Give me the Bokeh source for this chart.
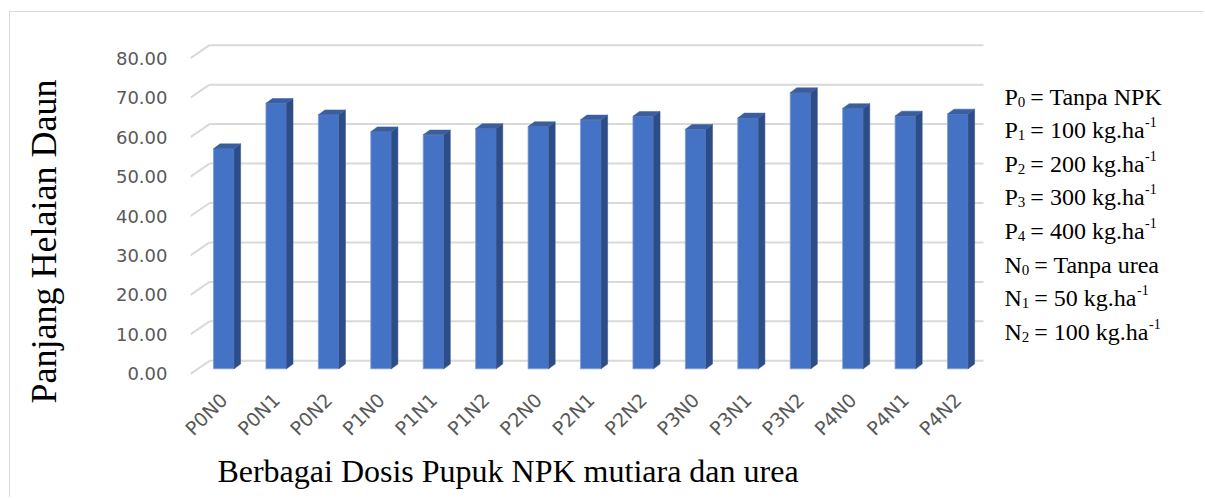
import math
from bokeh.plotting import figure
from bokeh.models import Range1d, LinearAxis, FixedTicker, PrintfTickFormatter, Title
from bokeh.core.properties import value
from bokeh.embed import file_html
from bokeh.resources import INLINE

# ---------------- data ----------------
categories = ["P0N0", "P0N1", "P0N2", "P1N0", "P1N1", "P1N2", "P2N0", "P2N1",
              "P2N2", "P3N0", "P3N1", "P3N2", "P4N0", "P4N1", "P4N2"]
panjang = [55.8, 67.3, 64.4, 60.1, 59.3, 60.9, 61.4, 63.1, 64.0, 60.7, 63.6,
           70.0, 66.0, 64.1, 64.6]
y_ticks = [0, 10, 20, 30, 40, 50, 60, 70, 80]

legend_symbols = ["P", "P", "P", "P", "P", "N", "N", "N"]
legend_subs = ["0", "1", "2", "3", "4", "0", "1", "2"]
legend_texts = ["= Tanpa NPK", "= 100 kg.ha", "= 200 kg.ha", "= 300 kg.ha",
                "= 400 kg.ha", "= Tanpa urea", "= 50 kg.ha", "= 100 kg.ha"]
legend_sups = ["", "-1", "-1", "-1", "-1", "", "-1", "-1"]

x_title = "Berbagai Dosis Pupuk NPK mutiara dan urea"
y_title = "Panjang Helaian Daun"

# ---------------- geometry / style ----------------
ORIGIN_X, ORIGIN_Y = 10.0, 12.0     # page position of the canvas
W, H = 1194, 486
FRAME_L, FRAME_R, FRAME_T, FRAME_B = 190.0, 1195.0, 30.0, 380.0   # page px
BL = int(FRAME_L - ORIGIN_X)
BR = int(ORIGIN_X + W - FRAME_R)
BT = int(FRAME_T - ORIGIN_Y)
BB = int(ORIGIN_Y + H - FRAME_B)
PX_CAT = 52.43          # px per category
PX_UNIT = 3.945         # px per value unit
BAR0_X = 223.3          # page x of first bar centre
BASE_Y = 368.3          # page y of bar base

x_start = (FRAME_L - BAR0_X) / PX_CAT
x_end = (FRAME_R - BAR0_X) / PX_CAT
y_start = (BASE_Y - FRAME_B) / PX_UNIT
y_end = (BASE_Y - FRAME_T) / PX_UNIT

HW = 10.3 / PX_CAT      # half front width
DX = 6.5 / PX_CAT       # depth offset x
DY = 4.8 / PX_UNIT      # depth offset y
BACK = 8.0 / PX_UNIT    # back wall offset
FRONT = 5.0 / PX_UNIT   # front-left edge offset
back_left = (209.0 - BAR0_X) / PX_CAT
grid_right = (983.0 - BAR0_X) / PX_CAT

FRONT_C = "#4472C4"
SIDE_C = "#2C4D87"
TOP_C = "#3A5E9E"
GRID_C = "#D9D9D9"
LABEL_C = "#595959"

p = figure(width=W, height=H, output_backend="svg", toolbar_location=None,
           x_range=Range1d(x_start, x_end), y_range=Range1d(y_start, y_end),
           y_axis_location=None, min_border_left=BL, min_border_right=BR,
           min_border_top=BT, min_border_bottom=BB,
           margin=(int(ORIGIN_Y) - 1, 0, 0, int(ORIGIN_X) - 1),
           styles={"border-top": "1px solid #D9D9D9", "border-left": "1px solid #D9D9D9"})
p.outline_line_color = None
p.xgrid.visible = False
p.ygrid.visible = False
p.background_fill_color = "white"
p.border_fill_color = "white"

# gridlines (back wall + slanted side wall)
p.multi_line(xs=[[back_left, grid_right] for _ in y_ticks],
             ys=[[t + BACK, t + BACK] for t in y_ticks],
             line_color=GRID_C, line_width=2)
p.segment(x0=[x_start] * len(y_ticks), y0=[t - FRONT for t in y_ticks],
          x1=[back_left] * len(y_ticks), y1=[t + BACK for t in y_ticks],
          line_color=GRID_C, line_width=2)

# bars
xs = list(range(len(categories)))
p.quad(left=[x - HW for x in xs], right=[x + HW for x in xs],
       bottom=[0] * len(xs), top=panjang,
       fill_color=FRONT_C, line_color="#7F9AD6", line_width=0.8)
p.patches(xs=[[x + HW, x + HW + DX, x + HW + DX, x + HW] for x in xs],
          ys=[[0, DY, v + DY, v] for v in panjang],
          fill_color=SIDE_C, line_color=SIDE_C, line_width=0.5)
p.patches(xs=[[x - HW, x - HW + DX, x + HW + DX, x + HW] for x in xs],
          ys=[[v, v + DY, v + DY, v] for v in panjang],
          fill_color=TOP_C, line_color=TOP_C, line_width=0.5)

# x axis
xa = p.xaxis[0]
xa.ticker = FixedTicker(ticks=xs)
xa.major_label_overrides = {i: c for i, c in enumerate(categories)}
xa.major_label_orientation = math.pi / 4
xa.major_label_text_font = "DejaVu Sans"
xa.major_label_text_font_size = "19px"
xa.major_label_text_color = LABEL_C
xa.major_label_standoff = 10
xa.axis_line_color = None
xa.major_tick_line_color = None
xa.minor_tick_line_color = None

# y axis (labels sit at the front-left edge of the gridlines)
p.extra_y_ranges = {"lab": Range1d(y_start + FRONT, y_end + FRONT)}
ya = LinearAxis(y_range_name="lab", ticker=FixedTicker(ticks=y_ticks),
                formatter=PrintfTickFormatter(format="%.2f"))
ya.major_label_text_font = "DejaVu Sans"
ya.major_label_text_font_size = "18px"
ya.major_label_text_color = LABEL_C
ya.major_label_standoff = 17
ya.axis_line_color = None
ya.major_tick_line_color = None
ya.minor_tick_line_color = None
# title is centred on the frame; non-breaking padding at its end moves the
# visible words down to where they sit in the reference
ya.axis_label = y_title + "\u00a0" * 8
ya.axis_label_text_font = "Liberation Serif"
ya.axis_label_text_font_size = "36px"
ya.axis_label_text_font_style = "normal"
ya.axis_label_text_color = "black"
ya.axis_label_standoff = 49
p.add_layout(ya, "left")

# Times-compatible glyph widths (Liberation Serif), per 1000 em
TW = {" ": 250, "-": 333, ".": 250, "=": 564, "N": 722, "P": 556, "K": 722,
      "T": 611, "a": 444, "e": 444, "g": 500, "h": 500, "k": 500, "n": 500,
      "p": 500, "r": 333, "u": 500, "B": 667, "b": 500, "i": 278, "D": 722,
      "o": 500, "s": 389, "m": 778, "t": 278, "d": 500, "H": 722, "l": 278,
      "j": 278}
def tw(s, size):
    return sum(TW.get(ch, 500) for ch in s) * size / 1000.0

# x title
XT_SIZE = 32
xt_left = 507.5 - tw(x_title, XT_SIZE) / 2.0
xt = Title(text=x_title, align="left", offset=xt_left - FRAME_L, standoff=0,
           text_font="Liberation Serif", text_font_size=f"{XT_SIZE}px",
           text_font_style="normal", text_color="black")
p.add_layout(xt, "below")

# legend text block (P0 = Tanpa NPK ...)
MAIN = 24
SMALL = 15
SUP = 14
lx = (1004.0 - BAR0_X) / PX_CAT
ly = [(BASE_Y - (96.0 + 33.6 * k)) / PX_UNIT for k in range(len(legend_texts))]
n = len(legend_texts)
sym_w = [tw(s, MAIN) for s in legend_symbols]
p.text(x=[lx] * n, y=ly, text=legend_symbols, text_font=value("Liberation Serif"),
       text_font_size=f"{MAIN}px", text_color="black", text_baseline="alphabetic")
p.text(x=[lx] * n, y=ly, text=legend_subs, x_offset=sym_w, y_offset=[5] * n,
       text_font=value("Liberation Serif"), text_font_size=f"{SMALL}px",
       text_color="black", text_baseline="alphabetic")
main_off = [w + 0.5 * SMALL + 5 for w in sym_w]
p.text(x=[lx] * n, y=ly, text=legend_texts, x_offset=main_off,
       text_font=value("Liberation Serif"), text_font_size=f"{MAIN}px",
       text_color="black", text_baseline="alphabetic")
sup_off = [m + tw(t, MAIN) + 0.5 for m, t in zip(main_off, legend_texts)]
p.text(x=[lx] * n, y=ly, text=legend_sups, x_offset=sup_off, y_offset=[-8] * n,
       text_font=value("Liberation Serif"), text_font_size=f"{SUP}px",
       text_color="black", text_baseline="alphabetic")

open("out.html", "w").write(file_html(p, INLINE))
